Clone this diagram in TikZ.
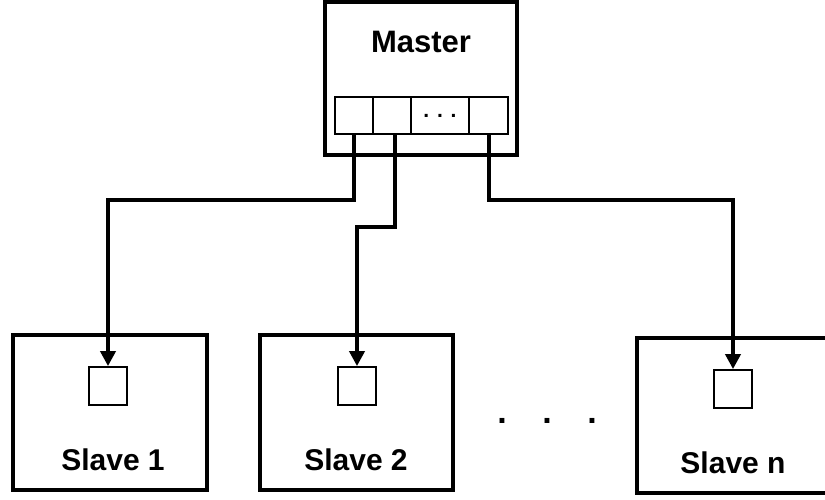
\documentclass[tikz,border=0pt]{standalone}
\usepackage{fontspec}
\setmainfont{Liberation Sans}
\usetikzlibrary{arrows.meta,positioning}

\tikzset{
  unit/.style={draw, rectangle, line width=4pt, inner sep=0pt},
  slot/.style={draw, rectangle, line width=1.8pt, inner sep=0pt, outer sep=0pt, minimum height=37pt},
  port/.style={draw, rectangle, line width=1.8pt, inner sep=0pt, minimum width=38pt, minimum height=38pt},
  lbl/.style={anchor=base, font=\fontsize{30}{36}\selectfont\bfseries},
  link/.style={line width=4pt, -{Triangle[length=15pt,width=15pt]}}
}

\begin{document}
\begin{tikzpicture}[x=1pt, y=-1pt]
    \useasboundingbox (0,0) rectangle (825,499);
    \clip (0,0) rectangle (825,499);

    % master and its row of output slots
    \node[unit, minimum width=192pt, minimum height=153pt] (master) at (421,78.5) {};
    \node[lbl, font=\fontsize{31}{36}\selectfont\bfseries] (mname) at (421,52) {Master};
    \node[slot, minimum width=38pt] (m1) at (354,115.5) {};
    \node[slot, minimum width=38pt, right=0pt of m1] (m2) {};
    \node[slot, minimum width=58pt, right=0pt of m2] (m3) {};
    \node[slot, minimum width=39pt, right=0pt of m3] (m4) {};
    \node[font=\fontsize{21}{24}\selectfont\bfseries] (mdots) at (m3.center) {. . .};

    % slaves
    \node[unit, minimum width=194pt, minimum height=155pt] (slave1) at (110,412.5) {};
    \node[unit, minimum width=193pt, minimum height=155pt] (slave2) at (356.5,412.5) {};
    \node[unit, minimum width=195pt, minimum height=155pt] (slaven) at (734.5,415.5) {};

    \node[port] (s1) at (108,386) {};
    \node[port] (s2) at (357,386) {};
    \node[port] (sn) at (733,389) {};

    \node[lbl] (l1) at (113,470) {Slave 1};
    \node[lbl] (l2) at (356,470) {Slave 2};
    \node[lbl] (ln) at (733,473) {Slave n};

    \foreach \x in {502,547,592}
        \node[lbl, font=\fontsize{34}{36}\selectfont\bfseries] (gap\x) at (\x,423) {.};

    % links from the master slots down to the slaves
    \draw[link] (m1.south) -- ++(0,66) -| (s1.north);
    \draw[link] ([xshift=3pt]m2.south) -- ++(0,93) -| (s2.north);
    \draw[link] (m4.south) -- ++(0,66) -| (sn.north);
\end{tikzpicture}
\end{document}
